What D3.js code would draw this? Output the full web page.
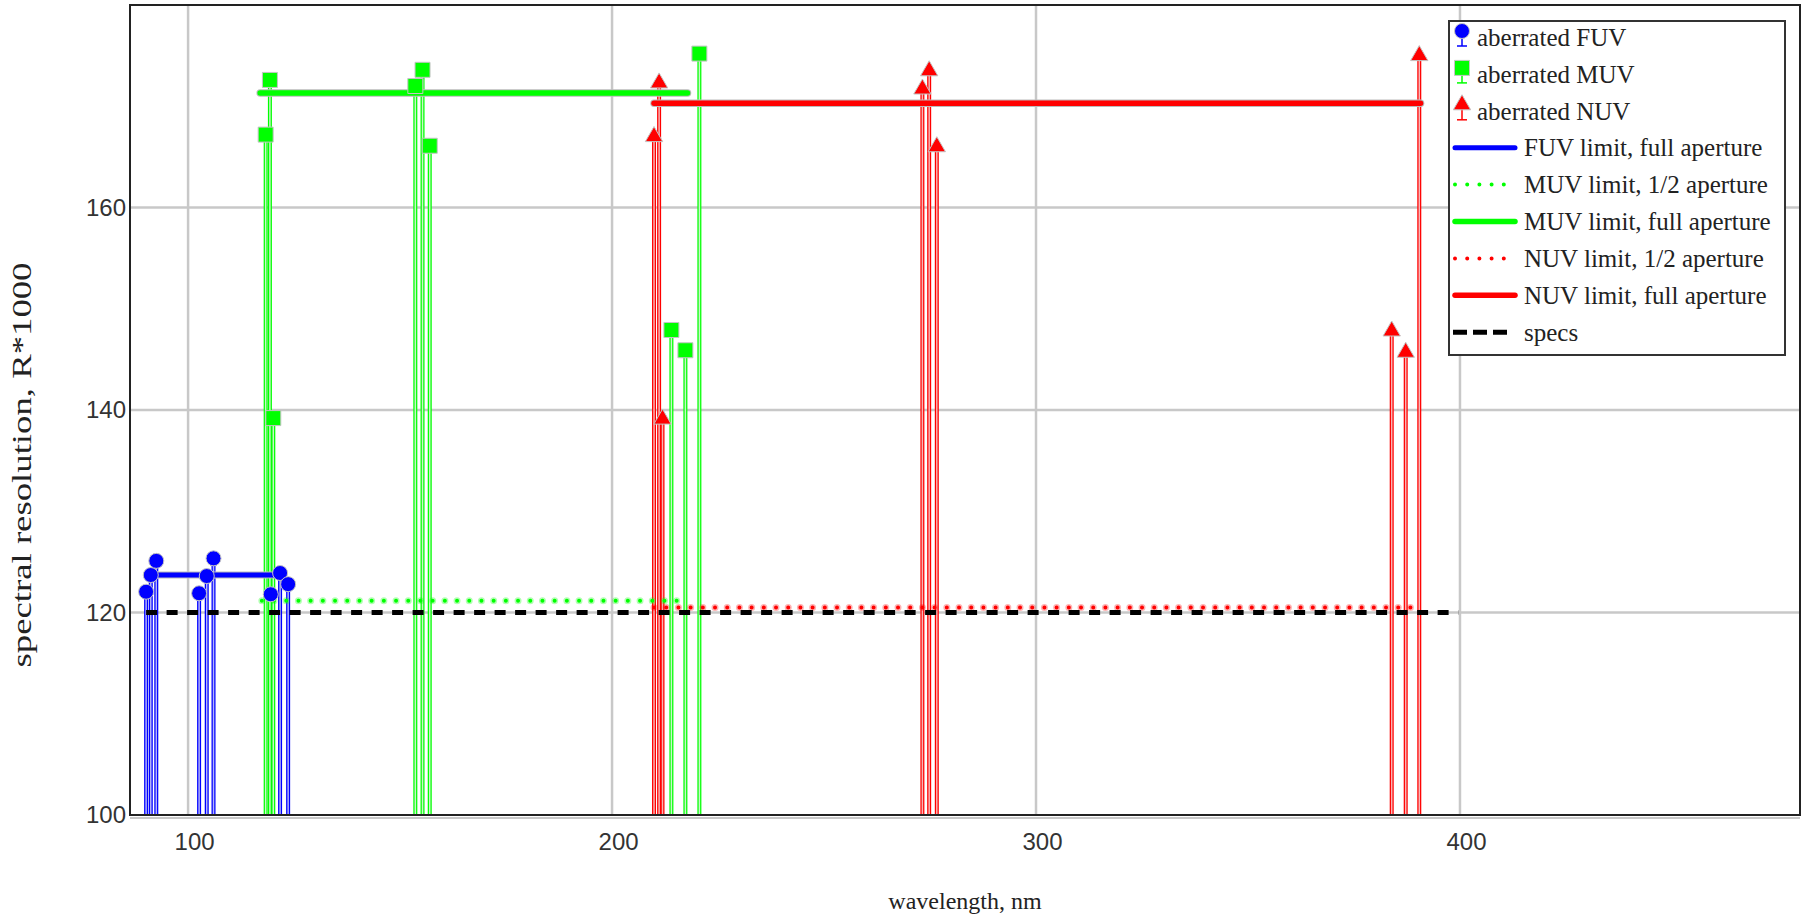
<!DOCTYPE html>
<html>
<head>
<meta charset="utf-8">
<script src="https://cdn.jsdelivr.net/npm/d3@7/dist/d3.min.js"></script>
<style>
html,body{margin:0;padding:0;background:#fff;}
svg{display:block;}
</style>
</head>
<body>
<script>
// ---- data ----
const fuvWave = [90.1, 91.2, 92.5, 102.6, 104.4, 106.0, 119.5, 121.7, 123.6];
const fuvRes  = [122.05, 123.7, 125.1, 121.9, 123.6, 125.35, 121.8, 123.9, 122.8];
const muvWave = [118.3, 119.3, 120.1, 153.6, 155.3, 157.0, 214.0, 217.3, 220.6];
const muvRes  = [167.2, 172.6, 139.2, 172.0, 173.6, 166.1, 147.9, 145.9, 175.2];
const nuvWave = [209.9, 211.1, 211.9, 273.2, 274.8, 276.6, 383.9, 387.2, 390.4];
const nuvRes  = [167.1, 172.4, 139.2, 171.8, 173.6, 166.1, 147.9, 145.8, 175.1];

const fuvFullWave = [91.2, 121.7];  const fuvFullRes = 123.7;
const muvHalfWave = [117.4, 216.8]; const muvHalfRes = 121.15;
const muvFullWave = [117.0, 217.8]; const muvFullRes = 171.3;
const nuvHalfWave = [209.9, 390.4]; const nuvHalfRes = 120.5;
const nuvFullWave = [209.9, 390.7]; const nuvFullRes = 170.3;
const specsWave   = [90.1, 399.6];  const specsRes   = 120;

const xTicks = [100, 200, 300, 400];
const yTicks = [100, 120, 140, 160];
const xDomain = [86.3, 480.2];
const yDomain = [100, 180];

const legendLabels = ["aberrated FUV","aberrated MUV","aberrated NUV","FUV limit, full aperture",
  "MUV limit, 1/2 aperture","MUV limit, full aperture","NUV limit, 1/2 aperture","NUV limit, full aperture","specs"];

// ---- layout ----
const W = 1803, H = 916;
const L = 130, T = 5, R = 1800, B = 815;
const BLUE = "#0000ff", GREEN = "#00ff00", RED = "#ff0000";
const SERIF = "Liberation Serif, Times New Roman, serif";

const svg = d3.select("body").append("svg").attr("width", W).attr("height", H);
const x = d3.scaleLinear().domain(xDomain).range([L, R]);
const y = d3.scaleLinear().domain(yDomain).range([B, T]);

// gridlines
const grid = svg.append("g");
grid.selectAll("line.vx").data(xTicks).join("line")
  .attr("x1", d => x(d)).attr("x2", d => x(d)).attr("y1", T).attr("y2", B)
  .attr("stroke", "#c8c8c8").attr("stroke-width", 2.5);
grid.selectAll("line.hy").data(yTicks.filter(d => d > 100)).join("line")
  .attr("x1", L).attr("x2", R).attr("y1", d => y(d)).attr("y2", d => y(d))
  .attr("stroke", "#c8c8c8").attr("stroke-width", 2.5);
svg.append("line").attr("x1", L).attr("x2", R).attr("y1", B + 3).attr("y2", B + 3)
  .attr("stroke", "#c8c8c8").attr("stroke-width", 2);

// axes (tick labels through d3 axes)
const xAxis = d3.axisBottom(x).tickValues(xTicks).tickSize(0).tickPadding(18).tickFormat(d3.format("d"));
const gx = svg.append("g").attr("transform", `translate(0,${B})`).call(xAxis);
gx.select(".domain").remove();
gx.selectAll("text").attr("font-family", "Liberation Sans, Arial, sans-serif").attr("font-size", 24)
  .attr("fill", "#333").attr("dx", 6);

const yAxis = d3.axisLeft(y).tickValues(yTicks).tickSize(0).tickPadding(4).tickFormat(d3.format("d"));
const gy = svg.append("g").attr("transform", `translate(${L},0)`).call(yAxis);
gy.select(".domain").remove();
gy.selectAll("text").attr("font-family", "Liberation Sans, Arial, sans-serif").attr("font-size", 24)
  .attr("fill", "#333");

// stems
function stems(wave, res, color, light) {
  const g = svg.append("g");
  const data = wave.map((w, i) => ({w, r: res[i]}));
  g.selectAll("line.o").data(data).join("line")
    .attr("x1", d => x(d.w)).attr("x2", d => x(d.w)).attr("y1", y(100)).attr("y2", d => y(d.r))
    .attr("stroke", color).attr("stroke-width", 4);
  g.selectAll("line.i").data(data).join("line")
    .attr("x1", d => x(d.w)).attr("x2", d => x(d.w)).attr("y1", y(100)).attr("y2", d => y(d.r))
    .attr("stroke", light).attr("stroke-width", 1.5);
}
stems(fuvWave, fuvRes, BLUE, "#b4b4fa");
stems(muvWave, muvRes, GREEN, "#c8f5c8");
stems(nuvWave, nuvRes, RED, "#f8b4b4");

function hline(wave, res, color, width, dash, cap) {
  const g = svg.append("g");
  if (!dash) {
    g.append("line").attr("x1", x(wave[0])).attr("x2", x(wave[1])).attr("y1", y(res)).attr("y2", y(res))
      .attr("stroke", "#bbb").attr("stroke-width", width + 2).attr("stroke-linecap", "round");
  }
  g.append("line").attr("x1", x(wave[0])).attr("x2", x(wave[1])).attr("y1", y(res)).attr("y2", y(res))
    .attr("stroke", color).attr("stroke-width", width)
    .attr("stroke-dasharray", dash || null).attr("stroke-linecap", cap || "round");
}
function dotted(wave, res, color) {
  const g = svg.append("g");
  g.append("line").attr("x1", x(wave[0])).attr("x2", x(wave[1])).attr("y1", y(res)).attr("y2", y(res))
    .attr("stroke", color).attr("stroke-opacity", 0.3).attr("stroke-width", 7)
    .attr("stroke-dasharray", "0,12.2").attr("stroke-linecap", "round");
  g.append("line").attr("x1", x(wave[0])).attr("x2", x(wave[1])).attr("y1", y(res)).attr("y2", y(res))
    .attr("stroke", color).attr("stroke-width", 4)
    .attr("stroke-dasharray", "0,12.2").attr("stroke-linecap", "round");
}
dotted(muvHalfWave, muvHalfRes, GREEN);
dotted(nuvHalfWave, nuvHalfRes, RED);
hline(specsWave, specsRes, "#000", 5, "11,9.5", "butt");
hline(fuvFullWave, fuvFullRes, BLUE, 5);
hline(muvFullWave, muvFullRes, GREEN, 5.5);
hline(nuvFullWave, nuvFullRes, RED, 5.5);

// markers
const circleSym = d3.symbol().type(d3.symbolCircle).size(Math.PI * 7.5 * 7.5);
const squareSym = d3.symbol().type(d3.symbolSquare).size(15 * 15);
const triSym = d3.symbol().type(d3.symbolTriangle).size(130);
function markers(wave, res, sym, color, dy) {
  svg.append("g").selectAll("path").data(wave.map((w, i) => ({w, r: res[i]}))).join("path")
    .attr("transform", d => `translate(${x(d.w)},${y(d.r) + (dy || 0)})`)
    .attr("d", sym).attr("fill", color).attr("stroke", "#c4c4c4").attr("stroke-width", 1);
}
markers(fuvWave, fuvRes, circleSym, BLUE);
markers(muvWave, muvRes, squareSym, GREEN);
markers(nuvWave, nuvRes, triSym, RED, 1);

// frame
svg.append("rect").attr("x", L).attr("y", T).attr("width", R - L).attr("height", B - T)
  .attr("fill", "none").attr("stroke", "#222").attr("stroke-width", 2);

// axis titles
svg.append("text").attr("x", 965).attr("y", 909).attr("text-anchor", "middle")
  .attr("font-family", SERIF).attr("font-size", 24).attr("fill", "#222")
  .text("wavelength, nm");
svg.append("text").attr("transform", "translate(31,465) rotate(-90)").attr("text-anchor", "middle")
  .attr("font-family", SERIF).attr("font-size", 28).attr("fill", "#222")
  .attr("textLength", 405).attr("lengthAdjust", "spacingAndGlyphs")
  .text("spectral resolution, R*1000");

// legend
const lg = svg.append("g");
const LX = 1449, LY = 21, LW = 336, LH = 334;
lg.append("rect").attr("x", LX).attr("y", LY).attr("width", LW).attr("height", LH)
  .attr("fill", "#fff").attr("stroke", "#333").attr("stroke-width", 2);
const rowY = i => 37 + i * 36.9;
legendLabels.forEach((lab, i) => {
  const cy = rowY(i);
  if (i < 3) {
    const col = [BLUE, GREEN, RED][i];
    const sym = [circleSym, squareSym, triSym][i];
    const mx = 1462;
    lg.append("line").attr("x1", mx).attr("x2", mx).attr("y1", cy - 6).attr("y2", cy + 9)
      .attr("stroke", col).attr("stroke-width", 1.5);
    lg.append("line").attr("x1", mx - 5).attr("x2", mx + 5).attr("y1", cy + 9).attr("y2", cy + 9)
      .attr("stroke", col).attr("stroke-width", 1.5);
    lg.append("path").attr("transform", `translate(${mx},${cy - 6})`).attr("d", sym)
      .attr("fill", col).attr("stroke", "#c4c4c4").attr("stroke-width", 1);
    lg.append("text").attr("x", 1477).attr("y", cy).attr("dy", "0.35em")
      .attr("font-family", SERIF).attr("font-size", 25).attr("fill", "#222")
      .text(lab);
  } else {
    const styles = {
      3: {c: BLUE, w: 5}, 4: {c: GREEN, dot: true}, 5: {c: GREEN, w: 5.5},
      6: {c: RED, dot: true}, 7: {c: RED, w: 5.5}, 8: {c: "#000", dash: "14,6"}
    };
    const s = styles[i];
    if (s.dot) {
      lg.append("line").attr("x1", 1455).attr("x2", 1505).attr("y1", cy).attr("y2", cy)
        .attr("stroke", s.c).attr("stroke-width", 4).attr("stroke-dasharray", "0,12.2").attr("stroke-linecap", "round");
    } else if (s.dash) {
      lg.append("line").attr("x1", 1453).attr("x2", 1507).attr("y1", cy).attr("y2", cy)
        .attr("stroke", s.c).attr("stroke-width", 5).attr("stroke-dasharray", s.dash);
    } else {
      lg.append("line").attr("x1", 1455).attr("x2", 1515).attr("y1", cy).attr("y2", cy)
        .attr("stroke", s.c).attr("stroke-width", s.w).attr("stroke-linecap", "round");
    }
    lg.append("text").attr("x", 1524).attr("y", cy).attr("dy", "0.35em")
      .attr("font-family", SERIF).attr("font-size", 25).attr("fill", "#222")
      .text(lab);
  }
});
</script>
</body>
</html>
